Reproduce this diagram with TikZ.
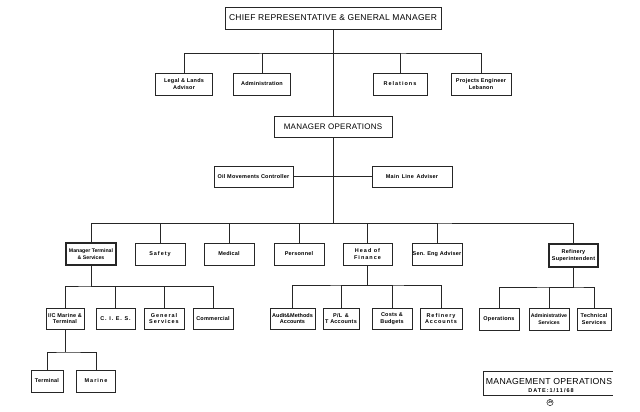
\documentclass[tikz,border=0pt]{standalone}
\usepackage{fontspec}
\setmainfont{Liberation Sans}
\newfontfamily\labfont[LetterSpace=4]{Liberation Sans}
\newfontfamily\spacedfont[LetterSpace=18]{Liberation Sans}
\newfontfamily\capfont[LetterSpace=3]{Liberation Sans}
\newfontfamily\datefont[LetterSpace=18]{Liberation Sans}
\begin{document}
\begin{tikzpicture}[x=1pt,y=-1pt,
  box/.style={draw=black!85, line width=0.6pt, inner sep=0.5pt, align=center,
    font=\labfont\bfseries\fontsize{5.5}{6.8}\selectfont, minimum height=22pt},
  wbox/.style={box, font=\spacedfont\bfseries\fontsize{5.5}{6.8}\selectfont},
  thickbox/.style={box, line width=1.1pt},
  bigbox/.style={draw=black!85, line width=0.7pt, inner sep=1pt,
    font=\capfont\fontsize{8.5}{10}\selectfont},
  conn/.style={draw=black!85, line width=0.6pt}]
\useasboundingbox (0,0) rectangle (640,412);
\fill[white] (0,0) rectangle (640,412);

% top level
\node[bigbox, minimum width=216pt, minimum height=22pt] (chief) at (333,18) {CHIEF REPRESENTATIVE \& GENERAL MANAGER};
\node[box, minimum width=57pt] (legal) at (184,84) {Legal \& Lands\\Advisor};
\node[box, minimum width=57pt] (admin) at (262,84) {Administration};
\node[wbox, minimum width=54pt] (rel) at (400,84) {Relations};
\node[box, minimum width=60pt] (proj) at (481,84) {Projects Engineer\\Lebanon};

\node[bigbox, minimum width=118pt, minimum height=21pt, font=\capfont\fontsize{8}{10}\selectfont] (mo) at (333,126.5) {MANAGER OPERATIONS};
\node[box, minimum width=79pt, minimum height=21pt] (oil) at (253.5,176.5) {Oil Movements Controller};
\node[box, minimum width=80pt, minimum height=21pt] (mla) at (412,176.5) {Main\enspace Line\enspace Adviser};

% row 4
\node[thickbox, minimum width=50pt, font=\bfseries\fontsize{5.2}{6.8}\selectfont] (mt) at (91,254) {Manager Terminal\\\& Services};
\node[wbox, minimum width=50pt] (safety) at (160,254) {Safety};
\node[box, minimum width=50pt] (medical) at (229,254) {Medical};
\node[box, minimum width=50pt] (personnel) at (299,254) {Personnel};
\node[wbox, minimum width=49pt] (hof) at (367.5,254) {Head of\\Finance};
\node[box, minimum width=50pt] (sea) at (437,254) {Sen. Eng Adviser};
\node[thickbox, minimum width=49pt, minimum height=23pt] (rs) at (573.5,255.5) {Refinery\\Superintendent};

% row 5
\node[box, minimum width=38pt, minimum height=21pt] (ic) at (65,318.5) {I/C Marine \&\\Terminal};
\node[wbox, minimum width=39pt, minimum height=21pt] (cies) at (115.5,318.5) {C. I. E. S.};
\node[wbox, minimum width=40pt, minimum height=21pt] (gs) at (164,318.5) {General\\Services};
\node[box, minimum width=40pt, minimum height=21pt] (com) at (213,318.5) {Commercial};

\node[box, minimum width=45pt, minimum height=21pt, font=\bfseries\fontsize{5.5}{6.8}\selectfont] (audit) at (292.5,318.5) {Audit\&Methods\\Accounts};
\node[box, minimum width=36pt, minimum height=21pt] (pl) at (341,318.5) {P/L\enspace\&\\T Accounts};
\node[box, minimum width=40pt, minimum height=21pt] (costs) at (392,318.5) {Costs \&\\Budgets};
\node[wbox, minimum width=42pt, minimum height=21pt] (racc) at (441,318.5) {Refinery\\Accounts};

\node[box, minimum width=40pt, minimum height=22pt] (ops) at (499,319) {Operations};
\node[box, minimum width=40pt, minimum height=22pt, font=\bfseries\fontsize{5.2}{6.8}\selectfont] (as) at (549,319) {Administrative\\Services};
\node[box, minimum width=34pt, minimum height=22pt] (ts) at (594,319) {Technical\\Services};

% row 6
\node[box, minimum width=32pt] (term) at (47,381) {Terminal};
\node[wbox, minimum width=39pt] (marine) at (96,381) {Marine};

% connectors
\coordinate (j1) at (333,53);
\coordinate (j2) at (333,223);
\coordinate (j3) at (91,286);
\coordinate (j4) at (65,352);
\coordinate (j5) at (367.5,285);
\coordinate (j6) at (573.5,287);

\draw[conn] (chief) -- (mo);
\draw[conn] (legal.north) |- (j1) -| (proj.north);
\draw[conn] (admin.north) |- (j1);
\draw[conn] (rel.north) |- (j1);
\draw[conn] (oil) -- (mla);

\draw[conn] (mo) -- (j2);
\draw[conn] (mt.north) |- (j2) -| (rs.north);
\foreach \n in {safety,medical,personnel,hof,sea} \draw[conn] (\n.north) |- (j2);

\draw[conn] (mt) -- (j3);
\draw[conn] (ic.north) |- (j3) -| (com.north);
\foreach \n in {cies,gs} \draw[conn] (\n.north) |- (j3);

\draw[conn] (ic) -- (j4);
\draw[conn] (term.north) |- (j4) -| (marine.north);

\draw[conn] (hof) -- (j5);
\draw[conn] (audit.north) |- (j5) -| (racc.north);
\foreach \n in {pl,costs} \draw[conn] (\n.north) |- (j5);

\draw[conn] (rs) -- (j6);
\draw[conn] (ops.north) |- (j6) -| (ts.north);
\draw[conn] (as.north) |- (j6);

% title block
\draw[conn] (483,395) -- (483,371) -- (613,371);
\draw[conn] (483,395) -- (613,395);
\node[font=\capfont\fontsize{8.7}{10}\selectfont, inner sep=0pt] (mgmt) at (549,382) {MANAGEMENT OPERATIONS};
\node[font=\datefont\bfseries\fontsize{5.5}{6}\selectfont, inner sep=0pt] (date) at (551,391) {DATE:1/11/68};
\node[circle, draw=black!85, line width=0.5pt, inner sep=0.4pt, font=\bfseries\fontsize{3.5}{4}\selectfont] (jh) at (550,402.5) {JH};
\end{tikzpicture}
\end{document}
